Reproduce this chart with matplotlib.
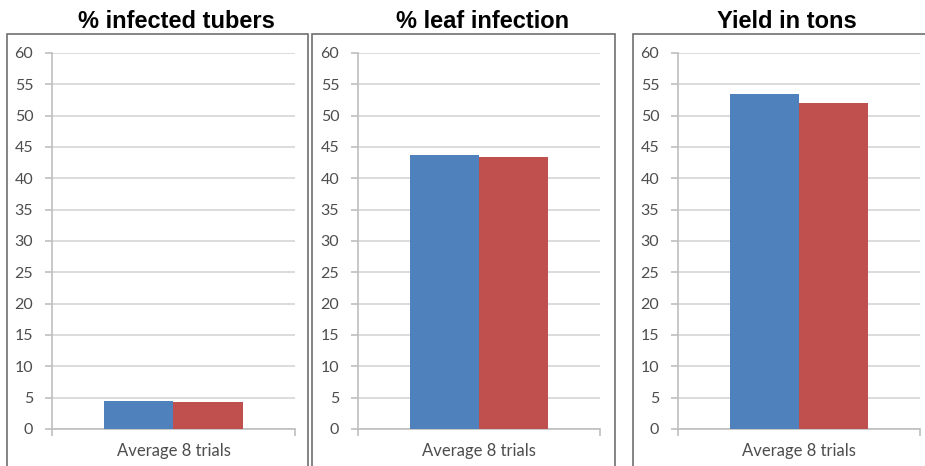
import numpy as np
import matplotlib
matplotlib.use("Agg")
import matplotlib.pyplot as plt
from matplotlib.patches import Rectangle

# data
titles = ["% infected tubers", "% leaf infection", "Yield in tons"]
category = "Average 8 trials"
series_a = [4.5, 43.7, 53.4]   # blue
series_b = [4.3, 43.4, 52.1]   # red
yticks = list(range(0, 61, 5))

W, H = 925, 466
fig = plt.figure(figsize=(W / 100, H / 100), dpi=100)

# pixel layout of each panel: plot area left/right, frame left/right
plot_x = [(52, 295), (358, 600), (678, 920)]
frame_x = [(7, 308), (312, 615), (633, 935)]
title_cx = [176, 483, 787]
top_px, bot_px = 53, 429

blue = "#4F81BD"
red = "#C0504D"
grid_c = "#D9D9D9"
axis_c = "#BFBFBF"
text_c = "#4D4D4D"

for i in range(3):
    x0, x1 = plot_x[i]
    ax = fig.add_axes([x0 / W, (H - bot_px) / H, (x1 - x0) / W, (bot_px - top_px) / H])
    w = 0.284
    ax.bar(-w / 2, series_a[i], width=w, color=blue, zorder=3)
    ax.bar(w / 2, series_b[i], width=w, color=red, zorder=3)
    ax.set_xlim(-0.5, 0.5)
    ax.set_ylim(0, 60)
    ax.set_yticks(yticks)
    ax.set_yticklabels([str(t) for t in yticks])
    ax.yaxis.grid(True, color=grid_c, lw=1.3, zorder=0)
    ax.set_xticks([-0.5, 0.5])
    ax.set_xticklabels(["", ""])
    ax.set_xticks([0], minor=True)
    ax.set_xticklabels([category], minor=True)
    ax.tick_params(axis="x", which="minor", length=0, pad=10,
                   labelsize=12, labelcolor=text_c)
    ax.tick_params(axis="x", which="major", length=5, color=axis_c, width=1.2)
    ax.tick_params(axis="y", length=5, color=axis_c, width=1.2,
                   labelsize=11.5, labelcolor=text_c, pad=8.5)
    for s in ["top", "right"]:
        ax.spines[s].set_visible(False)
    for s in ["left", "bottom"]:
        ax.spines[s].set_color(axis_c)
        ax.spines[s].set_linewidth(1.2)
    for lbl in ax.get_yticklabels() + ax.get_xticklabels(minor=True):
        lbl.set_family("Lato")

    fx0, fx1 = frame_x[i]
    fig.patches.append(Rectangle((fx0 / W, -0.05), (fx1 - fx0) / W, (H - 34) / H + 0.05,
                                 transform=fig.transFigure, fill=False,
                                 edgecolor="#707070", lw=1.2))
    fig.text(title_cx[i] / W, (H - 21) / H, titles[i], ha="center", va="center",
             fontsize=17, fontweight="bold", family="Liberation Sans", color="black")

fig.savefig("out.png", dpi=100)
